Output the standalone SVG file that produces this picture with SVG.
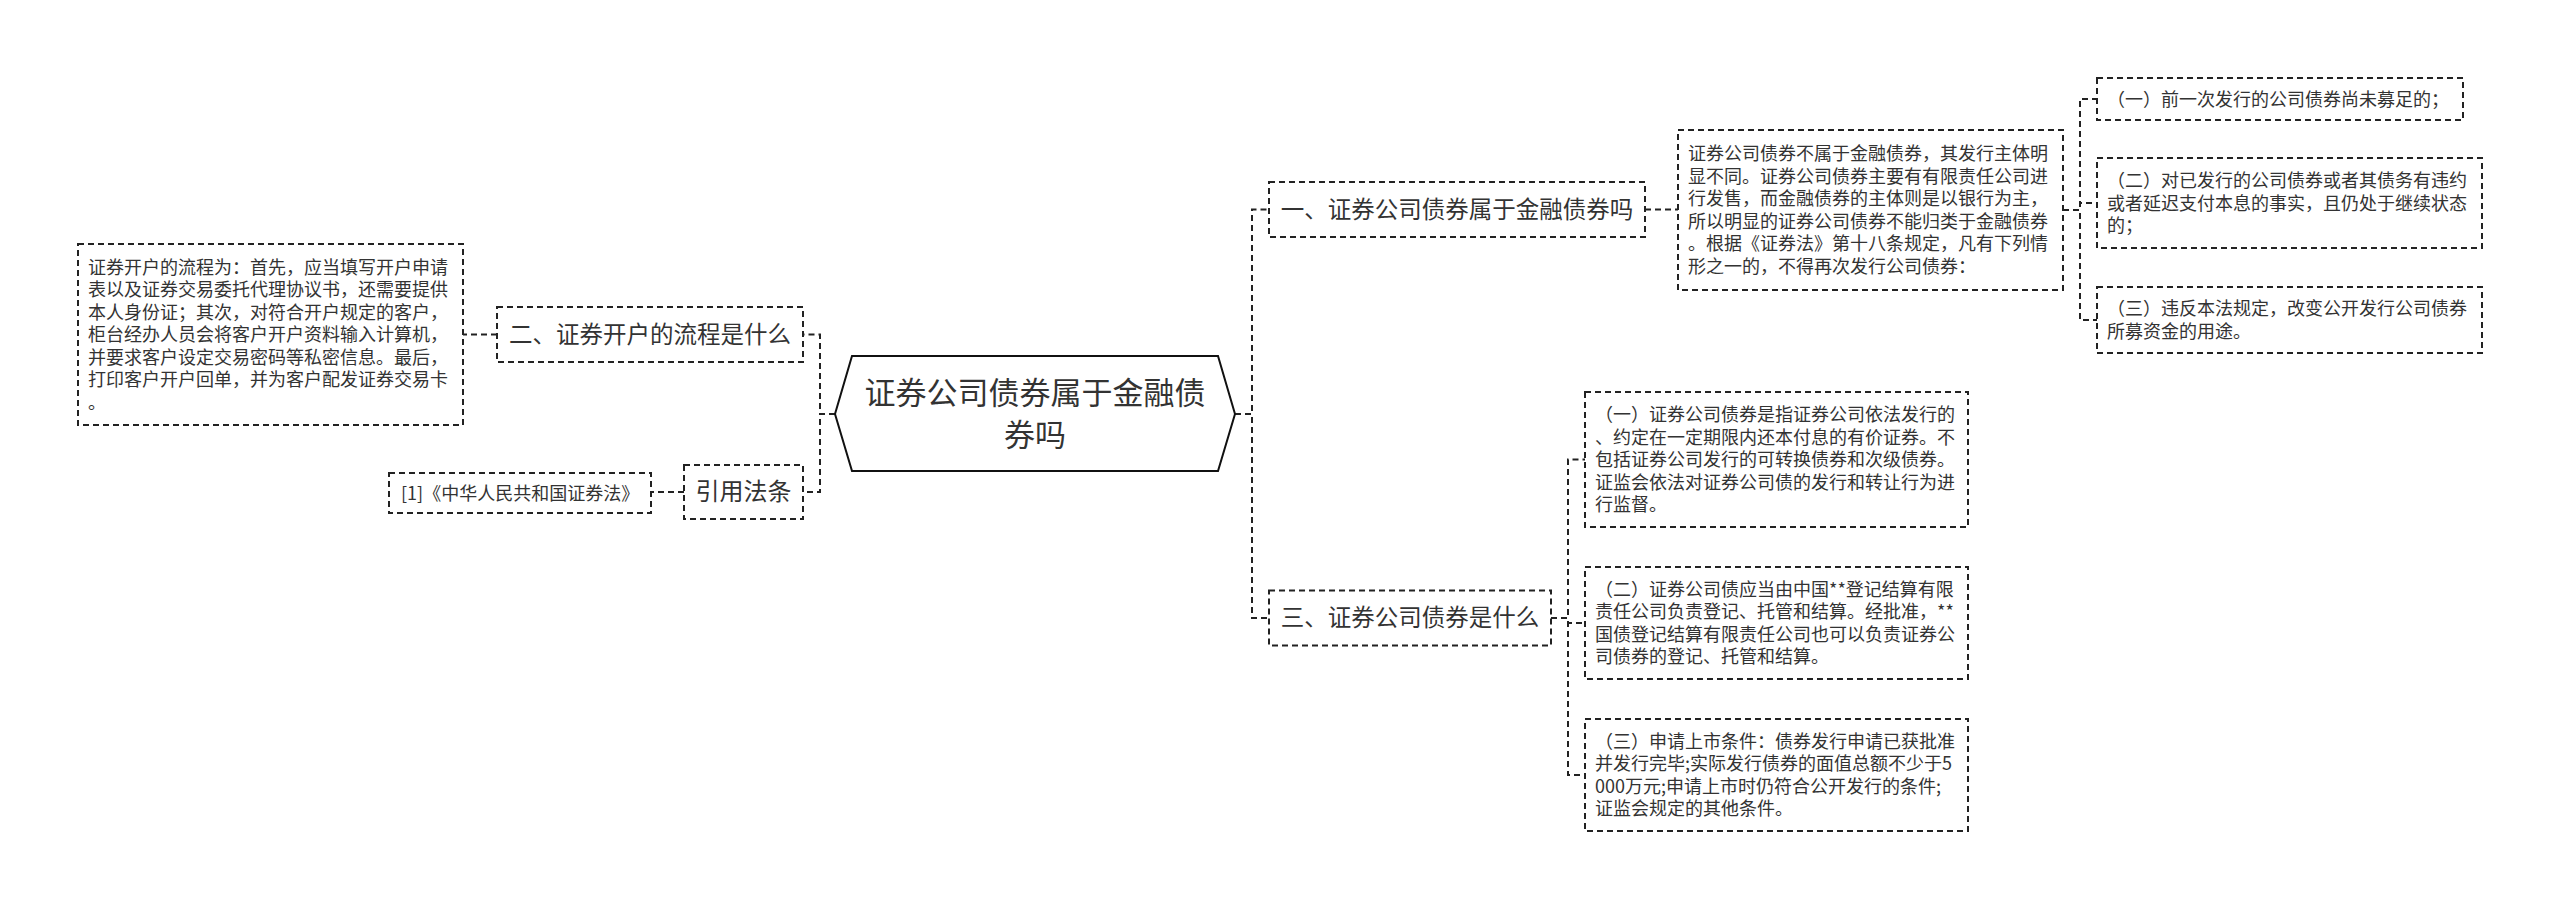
<svg xmlns="http://www.w3.org/2000/svg" width="2560" height="910" viewBox="0 0 2560 910">
<style>
text{font-family:"Noto Sans CJK SC","Noto Sans",sans-serif;fill:#333}
.box{fill:#fff;stroke:#222;stroke-width:2;stroke-dasharray:6 4}
.con{fill:none;stroke:#222;stroke-width:2;stroke-dasharray:6 4}
.t18{font-size:18px}
.h{font-size:23.5px;text-anchor:middle}
</style>
<rect width="2560" height="910" fill="#fff"/>
<g id="connectors">
<path class="con" d="M835,414 H820 V334.5 H803"/>
<path class="con" d="M835,414 H820 V492 H803"/>
<path class="con" d="M497,334.5 H463"/>
<path class="con" d="M684,492 H651"/>
<path class="con" d="M1235,414 H1252 V209.5 H1269"/>
<path class="con" d="M1235,414 H1252 V618 H1269"/>
<path class="con" d="M1645,209.5 H1678"/>
<path class="con" d="M2063,210 H2080 V99 H2097"/>
<path class="con" d="M2063,210 H2080 V203 H2097"/>
<path class="con" d="M2063,210 H2080 V320 H2097"/>
<path class="con" d="M1551,618 H1568 V459.5 H1585"/>
<path class="con" d="M1551,618 H1568 V623 H1585"/>
<path class="con" d="M1551,618 H1568 V775 H1585"/>
</g>
<g id="center">
<polygon points="835,414 852,356 1218,356 1235,414 1218,471 852,471" fill="#fff" stroke="#111" stroke-width="2"/>
<text x="1035" y="404" font-size="31" text-anchor="middle">证券公司债券属于金融债</text>
<text x="1035" y="446" font-size="31" text-anchor="middle">券吗</text>
</g>
<g id="n2">
<rect class="box" x="497" y="307" width="306" height="55"/>
<text class="h" x="650" y="342.7">二、证券开户的流程是什么</text>
</g>
<g id="n2-detail">
<rect class="box" x="78" y="244" width="385" height="181"/>
<text class="t18" x="88" y="273.5">证券开户的流程为：首先，应当填写开户申请</text>
<text class="t18" x="88" y="296">表以及证券交易委托代理协议书，还需要提供</text>
<text class="t18" x="88" y="318.5">本人身份证；其次，对符合开户规定的客户，</text>
<text class="t18" x="88" y="341">柜台经办人员会将客户开户资料输入计算机，</text>
<text class="t18" x="88" y="363.5">并要求客户设定交易密码等私密信息。最后，</text>
<text class="t18" x="88" y="386">打印客户开户回单，并为客户配发证券交易卡</text>
<text class="t18" x="88" y="408.5">。</text>
</g>
<g id="law">
<rect class="box" x="684" y="465" width="119" height="54"/>
<text x="743.5" y="500.4" font-size="24" text-anchor="middle">引用法条</text>
</g>
<g id="law-1">
<rect class="box" x="389" y="473" width="262" height="40"/>
<text class="t18" x="401" y="499.5">[1]《中华人民共和国证券法》</text>
</g>
<g id="n1">
<rect class="box" x="1269" y="182" width="376" height="55"/>
<text class="h" x="1457" y="217.7">一、证券公司债券属于金融债券吗</text>
</g>
<g id="n1-detail">
<rect class="box" x="1678" y="130" width="385" height="160"/>
<text class="t18" x="1688" y="160.25">证券公司债券不属于金融债券，其发行主体明</text>
<text class="t18" x="1688" y="182.75">显不同。证券公司债券主要有有限责任公司进</text>
<text class="t18" x="1688" y="205.25">行发售，而金融债券的主体则是以银行为主，</text>
<text class="t18" x="1688" y="227.75">所以明显的证券公司债券不能归类于金融债券</text>
<text class="t18" x="1688" y="250.25">。根据《证券法》第十八条规定，凡有下列情</text>
<text class="t18" x="1688" y="272.75">形之一的，不得再次发行公司债券：</text>
</g>
<g id="n1-a">
<rect class="box" x="2097" y="78" width="366" height="42"/>
<text class="t18" x="2107" y="105.5">（一）前一次发行的公司债券尚未募足的；</text>
</g>
<g id="n1-b">
<rect class="box" x="2097" y="158" width="385" height="90"/>
<text class="t18" x="2107" y="187">（二）对已发行的公司债券或者其债务有违约</text>
<text class="t18" x="2107" y="209.5">或者延迟支付本息的事实，且仍处于继续状态</text>
<text class="t18" x="2107" y="232">的；</text>
</g>
<g id="n1-c">
<rect class="box" x="2097" y="287" width="385" height="66"/>
<text class="t18" x="2107" y="315.25">（三）违反本法规定，改变公开发行公司债券</text>
<text class="t18" x="2107" y="337.75">所募资金的用途。</text>
</g>
<g id="n3">
<rect class="box" x="1269" y="590.5" width="282" height="55"/>
<text class="h" x="1410" y="626.2">三、证券公司债券是什么</text>
</g>
<g id="n3-a">
<rect class="box" x="1585" y="392" width="383" height="135"/>
<text class="t18" x="1595" y="421">（一）证券公司债券是指证券公司依法发行的</text>
<text class="t18" x="1595" y="443.5">、约定在一定期限内还本付息的有价证券。不</text>
<text class="t18" x="1595" y="466">包括证券公司发行的可转换债券和次级债券。</text>
<text class="t18" x="1595" y="488.5">证监会依法对证券公司债的发行和转让行为进</text>
<text class="t18" x="1595" y="511">行监督。</text>
</g>
<g id="n3-b">
<rect class="box" x="1585" y="567" width="383" height="112"/>
<text class="t18" x="1595" y="595.75">（二）证券公司债应当由中国**登记结算有限</text>
<text class="t18" x="1595" y="618.25">责任公司负责登记、托管和结算。经批准，**</text>
<text class="t18" x="1595" y="640.75">国债登记结算有限责任公司也可以负责证券公</text>
<text class="t18" x="1595" y="663.25">司债券的登记、托管和结算。</text>
</g>
<g id="n3-c">
<rect class="box" x="1585" y="719" width="383" height="112"/>
<text class="t18" x="1595" y="747.75">（三）申请上市条件：债券发行申请已获批准</text>
<text class="t18" x="1595" y="770.25">并发行完毕;实际发行债券的面值总额不少于5</text>
<text class="t18" x="1595" y="792.75">000万元;申请上市时仍符合公开发行的条件;</text>
<text class="t18" x="1595" y="815.25">证监会规定的其他条件。</text>
</g>
</svg>
